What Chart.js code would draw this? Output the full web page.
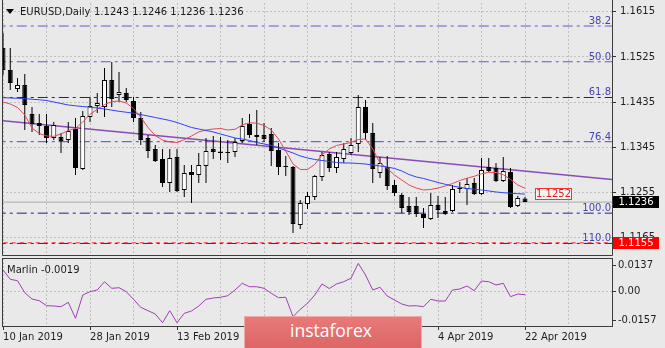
<!DOCTYPE html>
<html>
<head>
<meta charset="utf-8">
<title>EURUSD, Daily</title>
<script src="https://cdn.jsdelivr.net/npm/chart.js@4.4.1/dist/chart.umd.min.js"></script>
<style>
  html, body { margin: 0; padding: 0; background: #e9e9e9; }
  #stage { position: relative; width: 665px; height: 348px; overflow: hidden; background: #e9e9e9; }
  #stage canvas { position: absolute; left: 0; }
  #price { top: 0; }
  #osc { top: 256px; }
  #brand { position: absolute; left: 244px; top: 316px; width: 178px; height: 34px; box-sizing: border-box;
           background: linear-gradient(#e87a7a, #dd6464); border: 1px solid #f0a8a8; }
  #brand span { position: absolute; left: 45px; top: 5px; font: 17.5px/17.5px "Open Sans", sans-serif; color: #fff; }
</style>
</head>
<body>
<div id="stage">
  <canvas id="price" width="665" height="257"></canvas>
  <canvas id="osc" width="665" height="92"></canvas>
  <div id="brand"><span>instaforex</span></div>
</div>
<script>
// ---- EURUSD daily bars, 10 Jan 2019 .. 22 Apr 2019 ----
const days = ['10 Jan','11 Jan','14 Jan','15 Jan','16 Jan','17 Jan','18 Jan','21 Jan','22 Jan','23 Jan','24 Jan','25 Jan','28 Jan','29 Jan','30 Jan','31 Jan',
  '1 Feb','4 Feb','5 Feb','6 Feb','7 Feb','8 Feb','11 Feb','12 Feb','13 Feb','14 Feb','15 Feb','18 Feb','19 Feb','20 Feb','21 Feb','22 Feb','25 Feb','26 Feb','27 Feb','28 Feb',
  '1 Mar','4 Mar','5 Mar','6 Mar','7 Mar','8 Mar','11 Mar','12 Mar','13 Mar','14 Mar','15 Mar','18 Mar','19 Mar','20 Mar','21 Mar','22 Mar','25 Mar','26 Mar','27 Mar','28 Mar','29 Mar',
  '1 Apr','2 Apr','3 Apr','4 Apr','5 Apr','8 Apr','9 Apr','10 Apr','11 Apr','12 Apr','15 Apr','16 Apr','17 Apr','18 Apr','19 Apr','22 Apr'];

const opens = [1.15429,1.14991,1.14613,1.14693,1.14115,1.13936,1.13876,1.13637,1.13657,1.13597,
  1.13816,1.1302,1.14055,1.14274,1.14254,1.14792,1.14493,1.14533,1.14374,1.14035,
  1.13637,1.13418,1.13219,1.12741,1.13259,1.12602,1.1296,1.129,1.1308,1.13418,
  1.13368,1.13358,1.13358,1.13577,1.13916,1.13697,1.13697,1.13717,1.13398,1.1308,
  1.1306,1.11905,1.12323,1.12462,1.12861,1.13319,1.1304,1.13219,1.13339,1.13518,
  1.14254,1.13737,1.1294,1.1306,1.12701,1.12502,1.12283,1.12283,1.12124,1.12024,
  1.12303,1.12184,1.12184,1.12641,1.12622,1.12741,1.12522,1.1306,1.1304,1.12781,
  1.1296,1.12283,1.1243];
const highs = [1.15728,1.15429,1.14832,1.14911,1.14254,1.14115,1.14115,1.13956,1.13737,1.13956,
  1.14035,1.14175,1.14454,1.14533,1.15031,1.15151,1.14951,1.14633,1.14454,1.14155,
  1.13697,1.13498,1.13418,1.13418,1.13418,1.131,1.131,1.13339,1.13637,1.13677,
  1.13657,1.13597,1.13637,1.14035,1.14115,1.14195,1.13936,1.13836,1.13538,1.13279,
  1.1308,1.12403,1.12562,1.129,1.13358,1.13358,1.13358,1.13538,1.13637,1.14493,
  1.14394,1.13936,1.13259,1.13279,1.12801,1.12542,1.12462,1.12462,1.12243,1.12542,
  1.12482,1.12462,1.12701,1.12761,1.12841,1.12841,1.13239,1.13239,1.13139,1.13259,
  1.1304,1.12482,1.1246];
const lows = [1.14892,1.14593,1.14553,1.13796,1.13757,1.13697,1.13538,1.13597,1.13339,1.13538,
  1.129,1.13,1.13956,1.14135,1.14055,1.14254,1.14354,1.14354,1.13956,1.13498,
  1.13239,1.13159,1.12662,1.12562,1.12562,1.12462,1.12343,1.12741,1.12741,1.13219,
  1.13199,1.13139,1.13259,1.13538,1.13637,1.13498,1.13558,1.1308,1.129,1.1288,
  1.11746,1.11825,1.12223,1.12403,1.12781,1.1296,1.1294,1.13139,1.13299,1.13358,
  1.13597,1.12741,1.12841,1.12602,1.12482,1.12144,1.12104,1.12064,1.11845,1.12004,
  1.12044,1.12104,1.12164,1.12542,1.12303,1.12502,1.12502,1.1296,1.12761,1.12761,
  1.12243,1.12263,1.1236];
const closes = [1.14991,1.14732,1.14693,1.14294,1.13916,1.13876,1.13637,1.13896,1.13577,1.13777,
  1.1304,1.14075,1.14274,1.14334,1.14792,1.14414,1.14553,1.14394,1.14035,1.13597,
  1.13378,1.13179,1.12741,1.13239,1.12582,1.1294,1.129,1.131,1.13378,1.13358,
  1.13339,1.13339,1.13558,1.13876,1.13697,1.13657,1.13617,1.13378,1.1306,1.1306,
  1.11925,1.12343,1.12482,1.12881,1.13299,1.1304,1.13259,1.13418,1.13498,1.14254,
  1.13737,1.1302,1.13139,1.12681,1.12542,1.12243,1.12164,1.12124,1.12044,1.12303,
  1.12203,1.12124,1.12622,1.12622,1.12721,1.12522,1.12999,1.1298,1.12781,1.1298,
  1.12263,1.12442,1.1236];

// fast (red) and slow (blue) moving averages
const maFast = [1.14354,1.14314,1.14245,1.14095,1.13836,1.13727,1.13677,1.13671,1.13717,1.13787,
  1.13826,1.13956,1.14109,1.14205,1.14304,1.14358,1.14374,1.14334,1.14225,1.14049,
  1.13846,1.13687,1.13597,1.13558,1.13548,1.13603,1.13677,1.13757,1.13796,1.13816,
  1.13826,1.13796,1.1381,1.13896,1.1394,1.13932,1.13886,1.13796,1.13617,1.13378,
  1.13119,1.1301,1.1301,1.1311,1.13299,1.13418,1.13488,1.13518,1.13548,1.13607,
  1.13617,1.13418,1.13139,1.1303,1.129,1.12801,1.12701,1.12641,1.12602,1.12612,
  1.12641,1.12681,1.12731,1.12791,1.12835,1.12875,1.12924,1.12954,1.1295,1.12906,
  1.12811,1.12701,1.12636];
const maSlow = [1.1444,1.14434,1.14428,1.14422,1.14408,1.14398,1.14384,1.14354,1.14324,1.14294,
  1.14278,1.14264,1.1425,1.14235,1.14215,1.14191,1.14169,1.14149,1.14131,1.14105,
  1.14075,1.14045,1.14016,1.13986,1.13946,1.13896,1.13846,1.13816,1.13787,1.13757,
  1.13717,1.13677,1.13637,1.13617,1.13587,1.13548,1.13518,1.13488,1.13438,1.13388,
  1.13339,1.13279,1.13239,1.13209,1.13189,1.13169,1.13149,1.13139,1.13139,1.13129,
  1.13119,1.131,1.1308,1.1306,1.1303,1.1298,1.1291,1.12861,1.12831,1.12791,
  1.12751,1.12715,1.12681,1.12656,1.12632,1.12616,1.12602,1.12582,1.12562,1.12548,
  1.12536,1.12528,1.1252];

// Marlin oscillator
const marlin = [0.01142,0.00641,0.00565,-0.00081,-0.0042,-0.00512,-0.00781,-0.00797,-0.00835,-0.00598,
  -0.01459,-0.00205,-0.00027,0.00065,0.00512,0.00156,0.00188,-0.00027,-0.00436,-0.00867,
  -0.0105,-0.01228,-0.01696,-0.0105,-0.01696,-0.0119,-0.01066,-0.00797,-0.00436,-0.00366,
  -0.00328,-0.00242,0.00065,0.00425,0.00242,0.00242,0.00156,-0.00113,-0.0035,-0.00328,
  -0.01373,-0.00975,-0.00652,-0.00205,0.00388,0.00145,0.00388,0.00512,0.00695,0.01502,
  0.00872,0.00065,0.0021,-0.00258,-0.00474,-0.00689,-0.00797,-0.00781,-0.00835,-0.00436,
  -0.00528,-0.00528,0.00065,0.00118,0.0028,0.00027,0.00549,0.00512,0.00334,0.00425,
  -0.00296,-0.00151,-0.0019];

// drawn objects
const trendAnchors = [{bar: 0, price: 1.1398}, {bar: 84, price: 1.1281}];
const fibLevels = [38.2, 50.0, 61.8, 76.4, 100.0, 110.0];
const fibHigh = 1.1817, fibLow = 1.1214;
const alertPrice = 1.1155;

// axes
const priceTicks = [1.1615, 1.1525, 1.1435, 1.1345, 1.1255, 1.1165];
const oscTicks = [0.0137, 0, -0.0157];
const oscTickLabels = ['0.0137', '0.00', '-0.0157'];
const gridBars = [0, 6, 12, 18, 24, 30, 36, 42, 48, 54, 60, 66, 72, 78];
const dateTickBars = [0, 12, 24, 36, 48, 60, 72];
const year = '2019';

// ---- styling ----
const GRID = '#c0c0c0';
const FRAME = '#3c3c3c';
const FONT = '10px "DejaVu Sans"';
Chart.defaults.font.family = '"DejaVu Sans", sans-serif';
Chart.defaults.font.size = 10;
Chart.defaults.color = '#1e1e1e';

const last = closes.length - 1;
const bars = days.map((_, i) => i);
const fibPrice = lv => fibHigh - (fibHigh - fibLow) * lv / 100;
const hline = v => [{x: -1, y: v}, {x: 85, y: v}];
const X_MIN = -0.14, X_MAX = 84;
const fibLineColors = ['#5c5ccc', '#5c5ccc', '#1e1e96', '#4a4ac0', '#1e1e96', '#1e1e96'];

function tag(ctx, x, yc, w, h, bg, fg, text, border) {
  ctx.fillStyle = bg;
  ctx.fillRect(x, Math.round(yc - h / 2), w, h);
  if (border) {
    ctx.strokeStyle = border; ctx.lineWidth = 1;
    ctx.strokeRect(x + 0.5, Math.round(yc - h / 2) + 0.5, w - 1, h - 1);
  }
  ctx.fillStyle = fg;
  ctx.font = FONT;
  ctx.textAlign = 'center';
  ctx.textBaseline = 'middle';
  ctx.fillText(text, x + w / 2, Math.round(yc - h / 2) + h / 2 + 0.5);
}

const priceDecor = {
  id: 'priceDecor',
  afterDatasetsDraw(chart) {
    const {ctx, chartArea: a, scales: {y}} = chart;
    ctx.save();
    ctx.font = FONT;
    ctx.textAlign = 'right';
    ctx.textBaseline = 'alphabetic';
    ctx.fillStyle = '#4444b0';
    fibLevels.forEach(lv => {
      const py = y.getPixelForValue(fibPrice(lv));
      ctx.fillText(lv.toFixed(1), a.right - 1, py - 2);
    });
    ctx.restore();
  },
  afterDraw(chart) {
    const {ctx, chartArea: a, scales: {y}} = chart;
    ctx.save();
    // panel frame
    ctx.strokeStyle = FRAME; ctx.lineWidth = 1;
    ctx.beginPath();
    ctx.moveTo(a.left + 0.5, 0); ctx.lineTo(a.left + 0.5, a.bottom + 0.5);
    ctx.lineTo(a.right + 0.5, a.bottom + 0.5); ctx.lineTo(a.right + 0.5, 0);
    ctx.stroke();
    // symbol header
    ctx.fillStyle = '#000';
    ctx.beginPath(); ctx.moveTo(6, 9); ctx.lineTo(14, 9); ctx.lineTo(10, 14); ctx.closePath(); ctx.fill();
    ctx.font = FONT; ctx.textAlign = 'left'; ctx.textBaseline = 'alphabetic';
    ctx.fillStyle = '#1a1a1a';
    ctx.fillText('EURUSD,Daily', 20, 15);
    ctx.fillText([opens[last], highs[last], lows[last], closes[last]].map(v => v.toFixed(4)).join(' '), 94, 15);
    // price tags
    tag(ctx, 535, y.getPixelForValue(maSlow[last]), 37, 12, '#f4f4f4', '#e42020', maSlow[last].toFixed(4), '#ff3030');
    tag(ctx, a.right + 1, y.getPixelForValue(closes[last]), 46, 12, '#000', '#fff', closes[last].toFixed(4));
    tag(ctx, a.right + 1, y.getPixelForValue(alertPrice), 46, 12, '#ff0000', '#fff', alertPrice.toFixed(4));
    ctx.restore();
  }
};

const lineDs = (data, color, order, extra) => Object.assign({
  type: 'line', data, borderColor: color, borderWidth: 1, pointRadius: 0, tension: 0, order
}, extra || {});

new Chart(document.getElementById('price'), {
  type: 'bar',
  data: {
    datasets: [
      ...fibLevels.map((lv, k) => lineDs(hline(fibPrice(lv)), fibLineColors[k], 20 + k, {borderDash: [10, 4, 3, 4]})),
      lineDs(hline(closes[last]), '#ababab', 12),
      lineDs(hline(alertPrice), '#ff2b2b', 11, {borderDash: [4, 4]}),
      lineDs(trendAnchors.map(p => ({x: p.bar, y: p.price})), '#8b4bb5', 6, {borderWidth: 1.6}),
      {
        type: 'bar', order: 4, grouped: false, barThickness: 1, inflateAmount: 0,
        data: bars.map(i => ({x: i, y: [lows[i], highs[i]]})),
        backgroundColor: '#000', borderWidth: 0
      },
      {
        type: 'bar', order: 3, grouped: false, barThickness: 5, inflateAmount: 0,
        data: bars.map(i => ({x: i, y: [opens[i], closes[i]]})),
        backgroundColor: bars.map(i => closes[i] > opens[i] ? '#ffffff' : '#000000'),
        borderColor: '#000', borderWidth: 1, borderSkipped: false
      },
      lineDs(bars.map(i => ({x: i, y: maFast[i]})), '#e2475c', 2),
      lineDs(bars.map(i => ({x: i, y: maSlow[i]})), '#3242f2', 1)
    ]
  },
  options: {
    responsive: false, animation: false, events: [],
    layout: {padding: {top: 3, left: 2, right: 0, bottom: 2}},
    plugins: {legend: {display: false}, tooltip: {enabled: false}},
    scales: {
      x: {
        type: 'linear', min: X_MIN, max: X_MAX, offset: false,
        grid: {offset: false, color: GRID, drawTicks: false},
        border: {display: false, dash: [2, 2]},
        ticks: {display: false},
        afterBuildTicks: s => { s.ticks = gridBars.map(v => ({value: v})); },
        afterFit: s => { s.height = 0; s.paddingLeft = 0; s.paddingRight = 0; }
      },
      y: {
        type: 'linear', position: 'right', min: 1.11307, max: 1.16325,
        grid: {color: GRID, tickColor: '#333', tickLength: 4, tickBorderDash: []},
        border: {display: false, dash: [2, 2]},
        ticks: {padding: 4, color: '#1e1e1e', font: {family: 'DejaVu Sans', size: 10}, callback: v => Number(v).toFixed(4)},
        afterBuildTicks: s => { s.ticks = priceTicks.map(v => ({value: v})); },
        afterFit: s => { s.width = 53; s.paddingTop = 0; s.paddingBottom = 0; }
      }
    }
  },
  plugins: [priceDecor]
});

const oscDecor = {
  id: 'oscDecor',
  afterDraw(chart) {
    const {ctx, chartArea: a} = chart;
    ctx.save();
    ctx.strokeStyle = FRAME; ctx.lineWidth = 1;
    ctx.strokeRect(a.left + 0.5, a.top + 0.5, a.right - a.left, a.bottom - a.top);
    ctx.font = FONT; ctx.textAlign = 'left'; ctx.textBaseline = 'alphabetic';
    ctx.fillStyle = '#1a1a1a';
    ctx.fillText('Marlin ' + marlin[last].toFixed(4), 7, 16.5);
    ctx.restore();
  }
};

new Chart(document.getElementById('osc'), {
  type: 'line',
  data: {
    datasets: [lineDs(bars.map(i => ({x: i, y: marlin[i]})), '#a23db6', 1)]
  },
  options: {
    responsive: false, animation: false, events: [],
    layout: {padding: {top: 2, left: 2, right: 0, bottom: 0}},
    plugins: {legend: {display: false}, tooltip: {enabled: false}},
    scales: {
      x: {
        type: 'linear', min: X_MIN, max: X_MAX, offset: false,
        grid: {
          color: GRID, tickLength: 4, tickBorderDash: [],
          tickColor: c => (c.tick && dateTickBars.includes(c.tick.value)) ? '#333' : 'rgba(0,0,0,0)'
        },
        border: {display: false, dash: [2, 2]},
        ticks: {
          autoSkip: false, maxRotation: 0, minRotation: 0, align: 'start', padding: 1,
          color: '#1e1e1e', font: {family: 'DejaVu Sans', size: 10},
          callback: v => dateTickBars.includes(v) ? days[v] + ' ' + year : ''
        },
        afterBuildTicks: s => { s.ticks = gridBars.map(v => ({value: v})); },
        afterFit: s => { s.height = 22; s.paddingLeft = 0; s.paddingRight = 0; }
      },
      y: {
        type: 'linear', position: 'right', min: -0.01874, max: 0.017878,
        grid: {
          color: c => (c.tick && c.tick.value === 0) ? GRID : 'rgba(0,0,0,0)',
          tickColor: '#333', tickLength: 4, tickBorderDash: []
        },
        border: {display: false, dash: [2, 2]},
        ticks: {
          padding: 2, color: '#1e1e1e', font: {family: 'DejaVu Sans', size: 10},
          callback: (v, i) => oscTickLabels[i]
        },
        afterBuildTicks: s => { s.ticks = oscTicks.map(v => ({value: v})); },
        afterFit: s => { s.width = 53; s.paddingTop = 0; s.paddingBottom = 0; }
      }
    }
  },
  plugins: [oscDecor]
});
</script>
</body>
</html>
